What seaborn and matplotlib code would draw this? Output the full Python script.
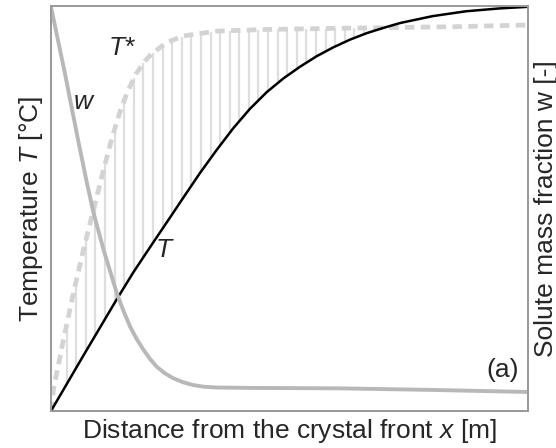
import numpy as np
import pandas as pd
import matplotlib
matplotlib.use("Agg")
import matplotlib.pyplot as plt
import seaborn as sns

# Dimensionless profiles ahead of the crystal front (schematic)
x_T = [0.0, 0.068, 0.138, 0.173, 0.208, 0.256, 0.277, 0.312, 0.347, 0.382, 0.417, 0.452,
       0.487, 0.522, 0.557, 0.592, 0.627, 0.662, 0.697, 0.732, 0.80, 0.87, 0.94, 1.0]
T = [0.0, 0.137, 0.276, 0.343, 0.405, 0.489, 0.526, 0.587, 0.644, 0.698, 0.746, 0.787,
     0.821, 0.850, 0.876, 0.898, 0.917, 0.933, 0.946, 0.958, 0.975, 0.987, 0.994, 0.998]

x_Tstar = [0.0, 0.005, 0.026, 0.047, 0.068, 0.089, 0.110, 0.128, 0.145, 0.161, 0.178,
           0.197, 0.211, 0.243, 0.277, 0.347, 0.45, 0.662, 0.85, 1.0]
T_star = [0.0, 0.052, 0.175, 0.291, 0.398, 0.496, 0.595, 0.675, 0.740, 0.790, 0.832,
          0.864, 0.882, 0.910, 0.926, 0.938, 0.942, 0.946, 0.949, 0.953]

x_w = [0.0, 0.029, 0.057, 0.075, 0.089, 0.110, 0.138, 0.152, 0.166, 0.180, 0.194, 0.208,
       0.222, 0.239, 0.256, 0.277, 0.298, 0.320, 0.347, 0.417, 0.6, 0.8, 1.0]
w = [0.998, 0.835, 0.668, 0.565, 0.490, 0.399, 0.291, 0.247, 0.208, 0.177, 0.151, 0.128,
     0.109, 0.093, 0.081, 0.071, 0.064, 0.060, 0.058, 0.057, 0.056, 0.052, 0.047]

# Positions of the hatch lines marking the supercooled zone (T < T*)
hatch_x = np.arange(0.033, 0.70, 0.0201)

sns.set_style("white")
plt.rcParams["font.family"] = ["Liberation Sans", "DejaVu Sans"]
plt.rcParams["mathtext.fontset"] = "custom"
plt.rcParams["mathtext.rm"] = "Liberation Sans"
plt.rcParams["mathtext.it"] = "Liberation Sans:italic"

FS = 19

fig = plt.figure(figsize=(5.56, 4.48), dpi=100)
ax = fig.add_axes([0.0917, 0.0826, 0.8579, 0.904])

# Hatching between liquidus temperature T* and actual temperature T
lo = np.interp(hatch_x, x_T, T)
hi = np.interp(hatch_x, x_Tstar, T_star)
mask = hi > lo + 0.005
ax.vlines(hatch_x[mask], lo[mask], hi[mask], color="#dedede", lw=1.6, zorder=1)

df_T = pd.DataFrame({"x": x_T, "y": T})
df_Ts = pd.DataFrame({"x": x_Tstar, "y": T_star})
sns.lineplot(data=df_Ts, x="x", y="y", ax=ax, color="#d3d3d3", lw=3.4,
             dashes=[(2.0, 1.35)], style=[0] * len(df_Ts), legend=False, zorder=2)
sns.lineplot(data=df_T, x="x", y="y", ax=ax, color="black", lw=1.8, zorder=3)

ax.set_xlim(0, 1)
ax.set_ylim(0, 1)
ax.set_xticks([])
ax.set_yticks([])

ax2 = ax.twinx()
df_w = pd.DataFrame({"x": x_w, "y": w})
sns.lineplot(data=df_w, x="x", y="y", ax=ax2, color="#b8b8b8", lw=2.8)
ax2.set_ylim(0, 1)
ax2.set_yticks([])

for a in (ax, ax2):
    for s in a.spines.values():
        s.set_color("#9a9a9a")
        s.set_linewidth(1.4)

ax.set_xlabel("Distance from the crystal front $x$ [m]", fontsize=FS, labelpad=4)
ax.set_ylabel("Temperature $T$ [°C]", fontsize=FS, labelpad=4)
ax2.set_ylabel("Solute mass fraction w [-]", fontsize=FS, labelpad=4)

ax.text(0.149, 0.896, "$T$*", fontsize=FS, ha="center", va="center")
ax.text(0.069, 0.763, "$w$", fontsize=FS, ha="center", va="center")
ax.text(0.239, 0.398, "$T$", fontsize=FS, ha="center", va="center")
ax.text(0.947, 0.101, "(a)", fontsize=FS, ha="center", va="center")

fig.savefig("out.png", dpi=100)
